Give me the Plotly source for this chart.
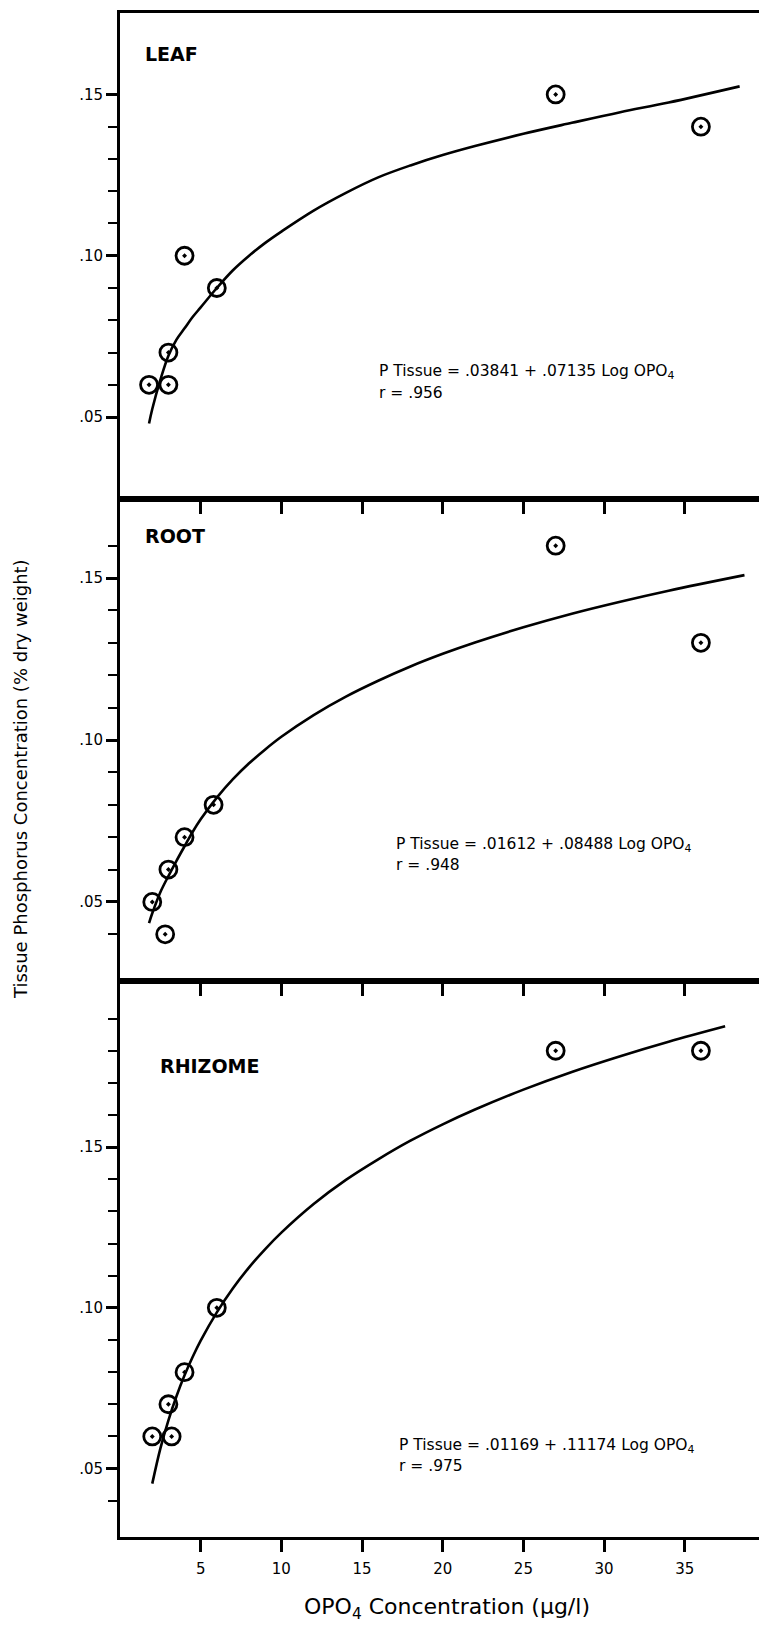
import plotly.graph_objects as go

# ---------------- data ----------------
leaf_x = [1.8, 3, 3, 4, 6, 27, 36]
leaf_y = [0.06, 0.07, 0.06, 0.10, 0.09, 0.15, 0.14]
root_x = [2, 2.8, 3, 4, 5.8, 27, 36]
root_y = [0.05, 0.04, 0.06, 0.07, 0.08, 0.16, 0.13]
rhiz_x = [2, 3, 3.2, 4, 6, 27, 36]
rhiz_y = [0.06, 0.07, 0.06, 0.08, 0.10, 0.18, 0.18]

leaf_fit_x = [1.8, 2.0, 2.5, 3.0, 3.5, 4.0, 4.5, 5.0, 6, 7, 8, 9, 10, 12, 14, 16, 18, 20,
              22, 25, 28, 31, 34, 38.4]
leaf_fit_y = [0.048, 0.0525, 0.0615, 0.069, 0.074, 0.0775, 0.081, 0.084, 0.090, 0.0955,
              0.100, 0.104, 0.1075, 0.114, 0.1195, 0.1243, 0.128, 0.1312, 0.134, 0.1378,
              0.1412, 0.1445, 0.1475, 0.1525]
root_fit_x = [1.8, 2.0, 2.5, 3.0, 3.5, 4.0, 4.5, 5.0, 6, 7, 8, 9, 10, 12, 14, 16, 18, 20,
              22, 25, 28, 31, 34, 38.7]
root_fit_y = [0.0435, 0.0465, 0.053, 0.058, 0.0627, 0.0672, 0.0716, 0.0755, 0.0822, 0.0879,
              0.0928, 0.0971, 0.101, 0.1077, 0.1134, 0.1183, 0.1227, 0.1266, 0.1301, 0.1348,
              0.139, 0.1427, 0.1461, 0.1509]
rhiz_fit_x = [2.0, 2.5, 3.0, 3.5, 4.0, 4.5, 5.0, 6, 7, 8, 9, 10, 12, 14, 16, 18, 20, 22,
              25, 28, 31, 34, 37.5]
rhiz_fit_y = [0.0453, 0.0562, 0.065, 0.0725, 0.079, 0.0847, 0.0898, 0.0986, 0.1061, 0.1126,
              0.1183, 0.1234, 0.1323, 0.1398, 0.1462, 0.152, 0.1571, 0.1617, 0.1679, 0.1734,
              0.1783, 0.1828, 0.1876]

panel_names = ["LEAF", "ROOT", "RHIZOME"]
equations = ["P Tissue = .03841 + .07135 Log OPO<sub>4</sub>",
             "P Tissue = .01612 + .08488 Log OPO<sub>4</sub>",
             "P Tissue = .01169 + .11174 Log OPO<sub>4</sub>"]
r_values = ["r = .956", "r = .948", "r = .975"]

x_tick_vals = [5, 10, 15, 20, 25, 30, 35]
y_major_vals = [0.05, 0.10, 0.15]
y_major_text = [".05", ".10", ".15"]
leaf_yminor_vals = [0.06, 0.07, 0.08, 0.09, 0.11, 0.12, 0.13, 0.14]
root_yminor_vals = [0.04, 0.06, 0.07, 0.08, 0.09, 0.11, 0.12, 0.13, 0.14, 0.16]
rhiz_yminor_vals = [0.04, 0.06, 0.07, 0.08, 0.09, 0.11, 0.12, 0.13, 0.14, 0.16, 0.17, 0.18, 0.19]

x_title = "OPO<sub>4</sub> Concentration (µg/l)"
y_title = "Tissue Phosphorus Concentration (% dry weight)"

# ---------------- layout geometry ----------------
W, H = 759, 1628
ML, MR, MT, MB = 120, 0, 12, 91
PW, PH = W - ML - MR, H - MT - MB
bounds_px = [(12.5, 499), (499, 981), (981, 1537)]  # top,bottom px of each panel


def py(p):
    return (H - MB - p) / PH


def px(p):
    return (p - ML) / PW


FONT = "DejaVu Sans, Arial, sans-serif"

fig = go.Figure()

sets = [
    (leaf_x, leaf_y, leaf_fit_x, leaf_fit_y, leaf_yminor_vals, [0.0246, 0.1754]),
    (root_x, root_y, root_fit_x, root_fit_y, root_yminor_vals, [0.0256, 0.1744]),
    (rhiz_x, rhiz_y, rhiz_fit_x, rhiz_fit_y, rhiz_yminor_vals, [0.0287, 0.2017]),
]

for i, (sx, sy, fx, fy, ymin, yr) in enumerate(sets):
    k = "" if i == 0 else str(i + 1)
    fig.add_trace(go.Scatter(x=fx, y=fy, mode="lines", line=dict(color="black", width=2.6, shape="spline"),
                             xaxis="x" + k, yaxis="y" + k, showlegend=False, hoverinfo="skip"))
    fig.add_trace(go.Scatter(x=sx, y=sy, mode="markers",
                             marker=dict(symbol="circle-open-dot", size=17, color="black",
                                         line=dict(width=2.8, color="black")),
                             xaxis="x" + k, yaxis="y" + k, showlegend=False))
    top, bot = bounds_px[i]
    dom = [py(bot), py(top)]
    last = i == 2
    fig.layout["xaxis" + k] = dict(
        domain=[0, 1], range=[0, 39.6], anchor="y" + k,
        showline=True, linewidth=3, linecolor="black", mirror=True,
        ticks="outside", ticklen=12, tickwidth=2.5, tickcolor="black",
        tickvals=x_tick_vals, showticklabels=last, showgrid=False, zeroline=False,
        ticklabelstandoff=4,
        tickfont=dict(family=FONT, size=15, color="black"),
    )
    fig.layout["yaxis" + k] = dict(
        domain=dom, range=yr, anchor="x" + k,
        showline=True, linewidth=3, linecolor="black",
        ticks="outside", ticklen=11, tickwidth=2.6, tickcolor="black",
        tickvals=y_major_vals, ticktext=y_major_text,
        minor=dict(tickmode="array", tickvals=ymin, ticks="outside", ticklen=9,
                   tickwidth=2, tickcolor="black", showgrid=False),
        showgrid=False, zeroline=False,
        tickfont=dict(family=FONT, size=15, color="black"),
    )

ann = []
label_pos = [(143, 54), (143, 536), (158, 1066)]
for name, (lx, ly) in zip(panel_names, label_pos):
    ann.append(dict(x=px(lx), y=py(ly), xref="paper", yref="paper", text="<b>" + name + "</b>",
                    showarrow=False, xanchor="left", yanchor="middle",
                    font=dict(family=FONT, size=19, color="black")))
eq_pos = [(377, 372, 393), (394, 845, 865), (397, 1446, 1466)]
for eq, rv, (ex, ey1, ey2) in zip(equations, r_values, eq_pos):
    ann.append(dict(x=px(ex), y=py(ey1), xref="paper", yref="paper", text=eq,
                    showarrow=False, xanchor="left", yanchor="middle",
                    font=dict(family=FONT, size=15.5, color="black")))
    ann.append(dict(x=px(ex), y=py(ey2), xref="paper", yref="paper", text=rv,
                    showarrow=False, xanchor="left", yanchor="middle",
                    font=dict(family=FONT, size=15.5, color="black")))
ann.append(dict(x=px(447), y=py(1608), xref="paper", yref="paper", text=x_title,
                showarrow=False, xanchor="center", yanchor="middle",
                font=dict(family=FONT, size=22, color="black")))
ann.append(dict(x=px(21), y=py(779), xref="paper", yref="paper", text=y_title, textangle=-90,
                showarrow=False, xanchor="center", yanchor="middle",
                font=dict(family=FONT, size=18, color="black")))

fig.update_layout(
    width=W, height=H, margin=dict(l=ML, r=MR, t=MT, b=MB),
    paper_bgcolor="white", plot_bgcolor="white", annotations=ann,
)

fig.write_html("out.html")
